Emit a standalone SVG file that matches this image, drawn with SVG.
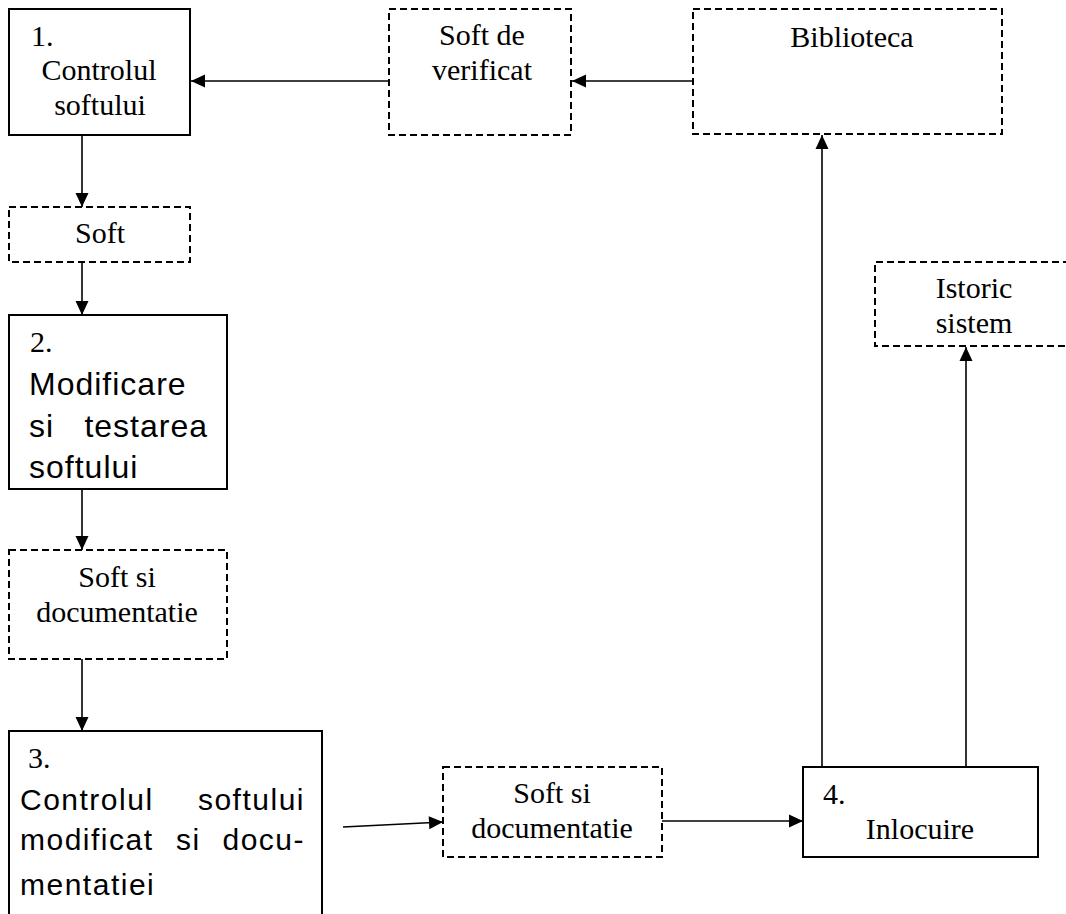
<svg xmlns="http://www.w3.org/2000/svg" width="1066" height="914" viewBox="0 0 1066 914">
<style>
.box{fill:#fff;stroke:#000;stroke-width:2}
.dash{fill:#fff;stroke:#000;stroke-width:2;stroke-dasharray:7 4}
.ser{font-family:"Liberation Serif","Times New Roman",serif;font-size:30px;fill:#000}
.c{text-anchor:middle}
.s2{font-family:"Liberation Sans",Arial,sans-serif;font-size:32px;letter-spacing:1px;fill:#000}
.s3{font-family:"Liberation Sans",Arial,sans-serif;font-size:30px;letter-spacing:1.5px;fill:#000}
.e{text-anchor:end}
.con{stroke:#000;stroke-width:1.6;fill:none;marker-end:url(#ah)}
</style>
<defs>
<marker id="ah" markerUnits="userSpaceOnUse" markerWidth="16" markerHeight="16" refX="15" refY="7" orient="auto">
<path d="M1,0.5 L15,7 L1,13.5 Z" fill="#000"/>
</marker>
</defs>
<rect width="1066" height="914" fill="#fff"/>
<g id="n1">
<rect class="box" x="9" y="9" width="181" height="126"/>
<text class="ser" x="31" y="46">1.</text>
<text class="ser c" x="99" y="80">Controlul</text>
<text class="ser c" x="100" y="115">softului</text>
</g>
<g id="softver">
<rect class="dash" x="389" y="9" width="182" height="126"/>
<text class="ser c" x="482" y="45">Soft de</text>
<text class="ser c" x="482" y="80">verificat</text>
</g>
<g id="biblioteca">
<rect class="dash" x="693" y="9" width="309" height="125"/>
<text class="ser c" x="852" y="47">Biblioteca</text>
</g>
<g id="soft">
<rect class="dash" x="9" y="207" width="181" height="55"/>
<text class="ser c" x="100" y="243">Soft</text>
</g>
<g id="n2">
<rect class="box" x="9" y="315" width="218" height="174"/>
<text class="ser" x="30" y="352">2.</text>
<text class="s2" x="29" y="395">Modificare</text>
<text class="s2" x="29" y="437">si</text>
<text class="s2 e" x="208" y="437">testarea</text>
<text class="s2" x="29" y="478">softului</text>
</g>
<g id="softdoc1">
<rect class="dash" x="9" y="550" width="218" height="109"/>
<text class="ser c" x="117" y="587">Soft si</text>
<text class="ser c" x="117" y="622">documentatie</text>
</g>
<g id="n3">
<path class="box" d="M9,925 V731 H322 V925"/>
<text class="ser" x="28" y="768">3.</text>
<text class="s3" x="20" y="810">Controlul</text>
<text class="s3 e" x="305" y="810">softului</text>
<text class="s3" x="20" y="850">modificat</text>
<text class="s3" x="176" y="850">si</text>
<text class="s3 e" x="305" y="850">docu-</text>
<text class="s3" x="20" y="895">mentatiei</text>
</g>
<g id="softdoc2">
<rect class="dash" x="443" y="767" width="219" height="90"/>
<text class="ser c" x="552" y="803">Soft si</text>
<text class="ser c" x="552" y="838">documentatie</text>
</g>
<g id="n4">
<rect class="box" x="803" y="767" width="235" height="90"/>
<text class="ser" x="823" y="804">4.</text>
<text class="ser c" x="920" y="839">Inlocuire</text>
</g>
<g id="istoric">
<path class="dash" d="M1070,262 H875 V346 H1070"/>
<text class="ser c" x="974" y="298">Istoric</text>
<text class="ser c" x="974" y="333">sistem</text>
</g>
<g id="connectors">
<line class="con" x1="389" y1="81" x2="191" y2="81"/>
<line class="con" x1="693" y1="81" x2="572" y2="81"/>
<line class="con" x1="82" y1="135" x2="82" y2="207"/>
<line class="con" x1="82" y1="262" x2="82" y2="315"/>
<line class="con" x1="82" y1="489" x2="82" y2="550"/>
<line class="con" x1="82" y1="659" x2="82" y2="731"/>
<line class="con" x1="343" y1="827" x2="443" y2="822"/>
<line class="con" x1="662" y1="821" x2="803" y2="821"/>
<line class="con" x1="822" y1="767" x2="822" y2="135"/>
<line class="con" x1="966" y1="767" x2="966" y2="347"/>
</g>
</svg>
